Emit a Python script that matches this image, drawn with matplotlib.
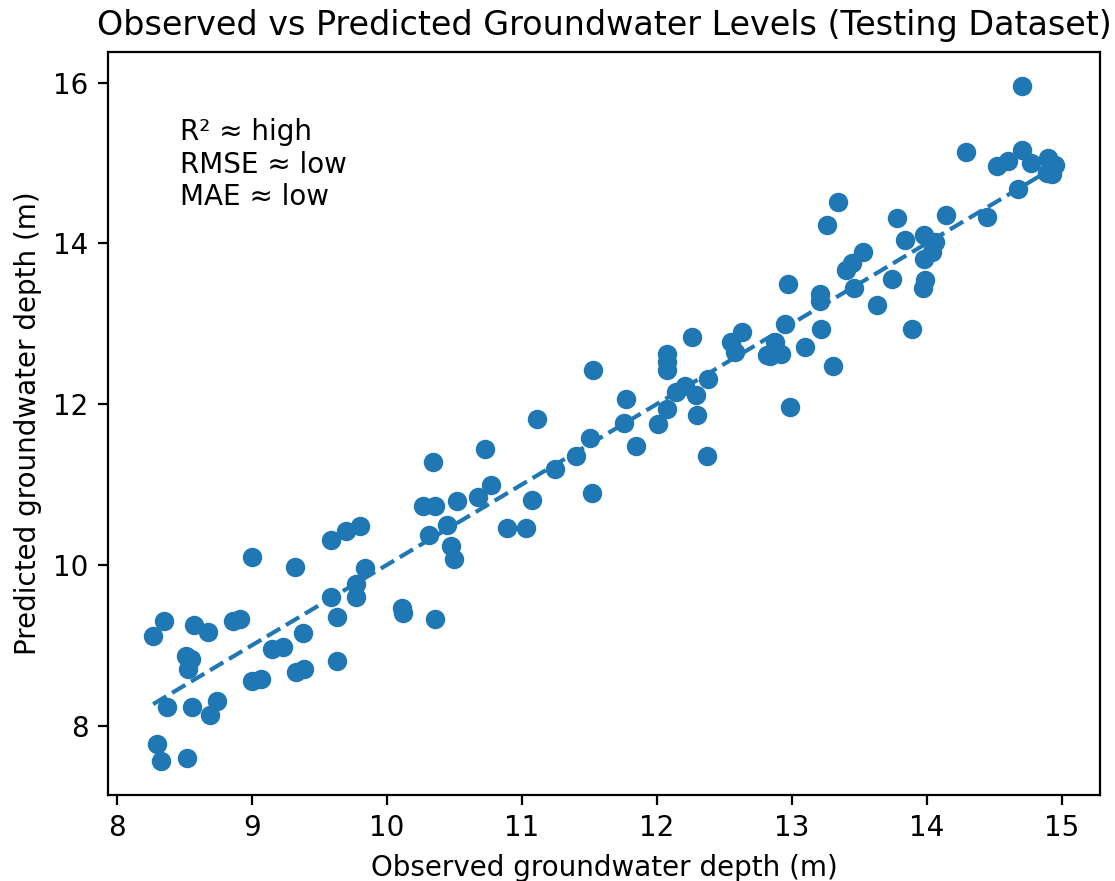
import matplotlib
matplotlib.use("Agg")
import matplotlib.pyplot as plt

# observed vs predicted (m)
observed = [
    8.27, 8.35, 8.30, 8.33, 8.52, 8.37, 8.56, 8.69, 8.74, 8.57,
    8.68, 8.51, 8.55, 8.53, 8.86, 8.91, 9.00, 9.00, 9.07, 9.15,
    9.23, 9.32, 9.33, 9.39, 9.38, 9.59, 9.70, 9.80, 9.59, 9.63,
    9.63, 9.84, 9.77, 9.77, 10.11, 10.12, 10.36, 10.27, 10.36, 10.31,
    10.34, 10.45, 10.48, 10.50, 10.52, 10.68, 10.73, 10.77, 10.89, 11.03,
    11.08, 11.11, 11.25, 11.40, 11.51, 11.52, 11.53, 11.76, 11.77, 11.85,
    12.01, 12.08, 12.08, 12.08, 12.08, 12.14, 12.21, 12.29, 12.30, 12.37,
    12.38, 12.26, 12.55, 12.58, 12.63, 12.82, 12.84, 12.88, 12.92, 12.95,
    12.97, 12.99, 13.10, 13.21, 13.21, 13.22, 13.31, 13.26, 13.34, 13.40,
    13.45, 13.53, 13.46, 13.63, 13.74, 13.78, 13.84, 13.89, 13.97, 13.99,
    13.98, 14.04, 13.98, 14.06, 14.14, 14.45, 14.29, 14.52, 14.60, 14.71,
    14.77, 14.68, 14.71, 14.90, 14.95, 14.93, 14.89,
]
predicted = [
    9.12, 9.31, 7.77, 7.56, 7.60, 8.23, 8.23, 8.13, 8.31, 9.25,
    9.17, 8.87, 8.83, 8.71, 9.31, 9.33, 10.10, 8.56, 8.58, 8.96,
    8.98, 9.98, 8.67, 8.71, 9.15, 10.31, 10.42, 10.48, 9.60, 9.35,
    8.81, 9.96, 9.77, 9.60, 9.46, 9.40, 9.33, 10.74, 10.74, 10.37,
    11.28, 10.50, 10.24, 10.08, 10.79, 10.84, 11.44, 11.00, 10.46, 10.46,
    10.81, 11.81, 11.19, 11.36, 11.58, 10.89, 12.42, 11.77, 12.06, 11.48,
    11.75, 11.94, 12.63, 12.52, 12.42, 12.15, 12.23, 12.11, 11.86, 11.36,
    12.31, 12.83, 12.77, 12.65, 12.90, 12.61, 12.60, 12.77, 12.62, 13.00,
    13.50, 11.96, 12.71, 13.37, 13.28, 12.94, 12.48, 14.23, 14.52, 13.67,
    13.75, 13.89, 13.44, 13.23, 13.56, 14.31, 14.04, 12.94, 13.44, 13.54,
    13.81, 13.89, 14.10, 14.02, 14.35, 14.33, 15.13, 14.96, 15.02, 15.16,
    15.00, 14.67, 15.96, 15.06, 14.98, 14.86, 14.87,
]

fig = plt.figure(figsize=(5.575, 4.405), dpi=200)
ax = fig.add_axes([0.0969, 0.0976, 0.8896, 0.8434])

ax.scatter(observed, predicted)
lo, hi = min(observed), max(observed)
ax.plot([lo, hi], [lo, hi], "--")

ax.set_xlabel("Observed groundwater depth (m)")
ax.set_ylabel("Predicted groundwater depth (m)")
ax.set_title("Observed vs Predicted Groundwater Levels (Testing Dataset)")
ax.text(0.073, 0.911, "R² ≈ high\nRMSE ≈ low\nMAE ≈ low",
        transform=ax.transAxes, va="top")

fig.savefig("out.png", dpi=200)
